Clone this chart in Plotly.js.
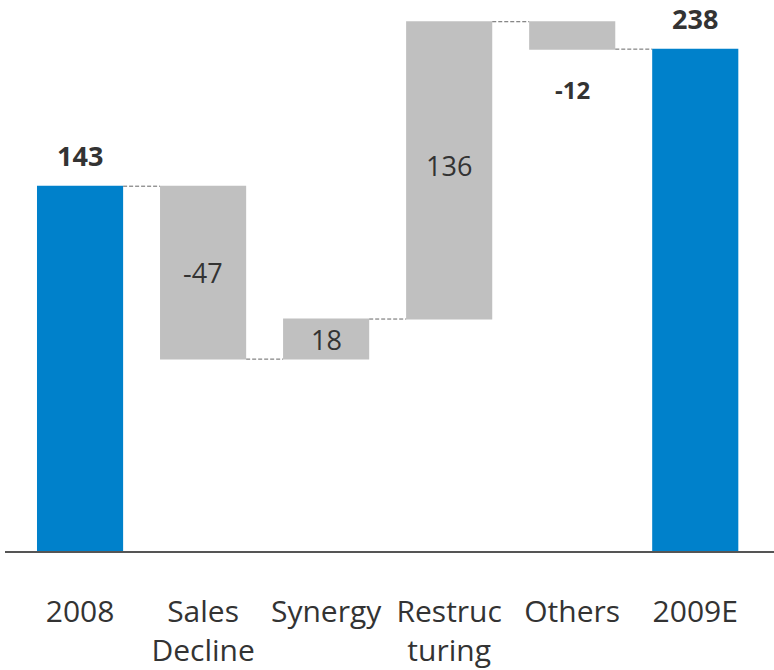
<!DOCTYPE html>
<html>
<head>
<meta charset="utf-8">
<script src="https://cdn.plot.ly/plotly-3.0.1.min.js"></script>
<style>html,body{margin:0;padding:0;background:#fff;}#chart{width:774px;height:670px;}</style>
</head>
<body>
<div id="chart"></div>
<script>
// Categories (axis labels)
var categories = ["2008", "Sales<br>Decline", "Synergy", "Restruc<br>turing", "Others", "2009E"];
// Measure type of each step
var measures = ["absolute", "relative", "relative", "relative", "relative", "total"];
// Bar heights as drawn in the picture (chart is not to scale with its labels)
var barValues = [173, -82, 19, 141, -13, 0];
// Printed value labels
var valueLabels = ["143", "-47", "18", "136", "-12", "238"];

(function () {
  var BLUE = "#0081CB", GRAY = "#C0C0C0", TEXT = "#333333";
  var FONT = "Open Sans";

  // cumulative levels from the data
  var starts = [], ends = [], run = 0;
  for (var i = 0; i < barValues.length; i++) {
    if (measures[i] === "absolute") { starts.push(0); run = barValues[i]; ends.push(run); }
    else if (measures[i] === "total") { starts.push(0); ends.push(run); }
    else { starts.push(run); run += barValues[i]; ends.push(run); }
  }

  var annotations = [];
  for (var j = 0; j < categories.length; j++) {
    var hi = Math.max(starts[j], ends[j]), lo = Math.min(starts[j], ends[j]);
    var a = {x: j, xref: "x", yref: "y", showarrow: false, text: valueLabels[j],
             font: {family: FONT, size: 27, color: TEXT}};
    if (measures[j] !== "relative") {
      a.y = hi; a.yanchor = "bottom"; a.yshift = 10; a.text = "<b>" + valueLabels[j] + "</b>";
    } else if (j === 4) {
      a.y = lo; a.yanchor = "top"; a.yshift = -22; a.text = "<b>" + valueLabels[j] + "</b>";
      a.font = {family: FONT, size: 24, color: TEXT};
    } else {
      a.y = (hi + lo) / 2; a.yanchor = "middle"; a.yshift = (j === 3 ? 5 : 0);
    }
    annotations.push(a);
  }

  var trace = {
    type: "waterfall",
    x: categories,
    y: barValues,
    measure: measures,
    width: 0.7,
    textinfo: "none",
    hoverinfo: "none",
    increasing: {marker: {color: GRAY}},
    decreasing: {marker: {color: GRAY}},
    totals: {marker: {color: BLUE}},
    connector: {mode: "between", line: {color: "#666666", width: 1, dash: "4px,2px"}}
  };

  var layout = {
    width: 774, height: 670,
    margin: {l: 5, r: 0, t: 0, b: 119},
    paper_bgcolor: "#ffffff", plot_bgcolor: "#ffffff",
    showlegend: false,
    xaxis: {
      type: "category", range: [-0.61, 5.64],
      showline: true, linecolor: "#555555", linewidth: 2,
      showgrid: false, zeroline: false,
      ticks: "outside", ticklen: 33, tickcolor: "rgba(0,0,0,0)",
      tickfont: {family: FONT, size: 30, color: TEXT}
    },
    yaxis: {range: [0, 261.3], visible: false, showgrid: false, zeroline: false},
    annotations: annotations
  };

  Plotly.newPlot("chart", [trace], layout, {displayModeBar: false, staticPlot: true});
})();
</script>
</body>
</html>
